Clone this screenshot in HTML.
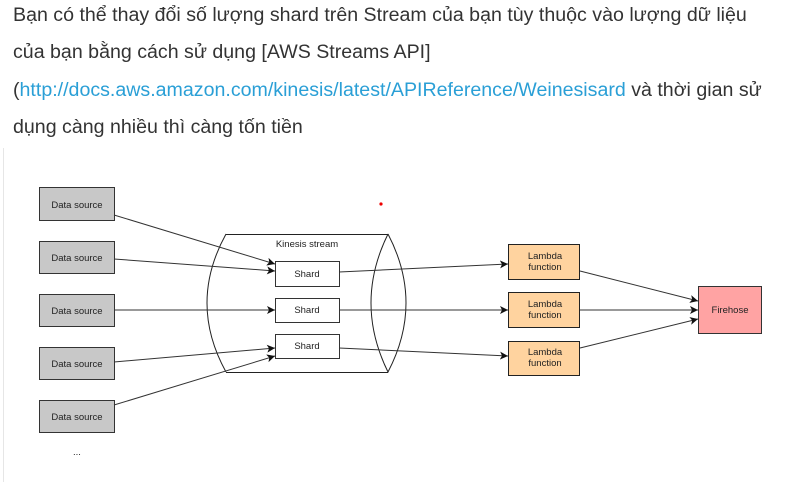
<!DOCTYPE html>
<html><head><meta charset="utf-8"><style>
html,body{margin:0;padding:0;background:#fff;width:804px;height:482px;overflow:hidden}
.t{position:absolute;left:13px;font-family:"Liberation Sans","DejaVu Sans",sans-serif;font-size:19.6px;color:#333;white-space:nowrap;letter-spacing:0}
.t a{color:#2a9fd6;text-decoration:none}
.bar{position:absolute;left:3px;top:148px;width:1px;height:334px;background:#e6e6e6}
</style></head><body>
<div class="t" style="top:4px">Bạn có thể thay đổi số lượng shard trên Stream của bạn tùy thuộc vào lượng dữ liệu</div>
<div class="t" style="top:41px">của bạn bằng cách sử dụng [AWS Streams API]</div>
<div class="t" style="top:79px">(<a>http://docs.aws.amazon.com/kinesis/latest/APIReference/Weinesisard</a> và thời gian sử</div>
<div class="t" style="top:116px">dụng càng nhiều thì càng tốn tiền</div>
<div class="bar"></div>
<svg width="804" height="482" style="position:absolute;left:0;top:0" font-family="Liberation Sans, DejaVu Sans, sans-serif" font-size="9.5">
<defs><marker id="a" markerWidth="8" markerHeight="8" refX="8" refY="4" orient="auto" markerUnits="userSpaceOnUse"><path d="M0,0 L8,4 L0,8 L2,4z" fill="#111"/></marker></defs>
<g fill="#c8c8c8" stroke="#333">
<rect x="39.5" y="187.5" width="75" height="33"/>
<rect x="39.5" y="241.5" width="75" height="32"/>
<rect x="39.5" y="294.5" width="75" height="32"/>
<rect x="39.5" y="347.5" width="75" height="32"/>
<rect x="39.5" y="400.5" width="75" height="32"/>
</g>
<g text-anchor="middle" fill="#222">
<text x="77" y="208">Data source</text>
<text x="77" y="261">Data source</text>
<text x="77" y="314">Data source</text>
<text x="77" y="367">Data source</text>
<text x="77" y="420">Data source</text>
<text x="77" y="455">...</text>
</g>
<g fill="none" stroke="#222" stroke-width="1">
<path d="M226,234.5 H388 M226,372.5 H388"/>
<path d="M226,234 Q188,303 226,372"/>
<path d="M388,234 Q354,303 388,372 Q424,303 388,234"/>
</g>
<text x="307" y="247" text-anchor="middle" fill="#222">Kinesis stream</text>
<g fill="#fff" stroke="#333">
<rect x="275.5" y="261.5" width="64" height="25"/>
<rect x="275.5" y="298.5" width="64" height="24"/>
<rect x="275.5" y="334.5" width="64" height="24"/>
</g>
<g text-anchor="middle" fill="#222">
<text x="307" y="277">Shard</text><text x="307" y="313">Shard</text><text x="307" y="349">Shard</text>
</g>
<g stroke="#333" fill="none" marker-end="url(#a)">
<line x1="114" y1="215" x2="275" y2="264"/>
<line x1="114" y1="259" x2="275" y2="271"/>
<line x1="114" y1="310" x2="275" y2="310"/>
<line x1="114" y1="362" x2="275" y2="348"/>
<line x1="114" y1="405" x2="275" y2="356"/>
<line x1="339" y1="272" x2="508" y2="264"/>
<line x1="339" y1="310" x2="508" y2="310"/>
<line x1="339" y1="348" x2="508" y2="356"/>
<line x1="580" y1="271" x2="698" y2="301"/>
<line x1="580" y1="310" x2="698" y2="310"/>
<line x1="580" y1="348" x2="698" y2="319"/>
</g>
<g fill="#ffd39f" stroke="#222">
<rect x="508.5" y="244.5" width="71" height="35"/>
<rect x="508.5" y="292.5" width="71" height="35"/>
<rect x="508.5" y="341.5" width="71" height="34"/>
</g>
<g text-anchor="middle" fill="#222">
<text x="545" y="259">Lambda</text><text x="545" y="270">function</text>
<text x="545" y="307">Lambda</text><text x="545" y="318">function</text>
<text x="545" y="355">Lambda</text><text x="545" y="366">function</text>
</g>
<rect x="698.5" y="286.5" width="63" height="47" fill="#ffa3a3" stroke="#333"/>
<text x="730" y="313" text-anchor="middle" fill="#222">Firehose</text>
<circle cx="381" cy="204" r="1.6" fill="#e00"/>
</svg>
</body></html>
